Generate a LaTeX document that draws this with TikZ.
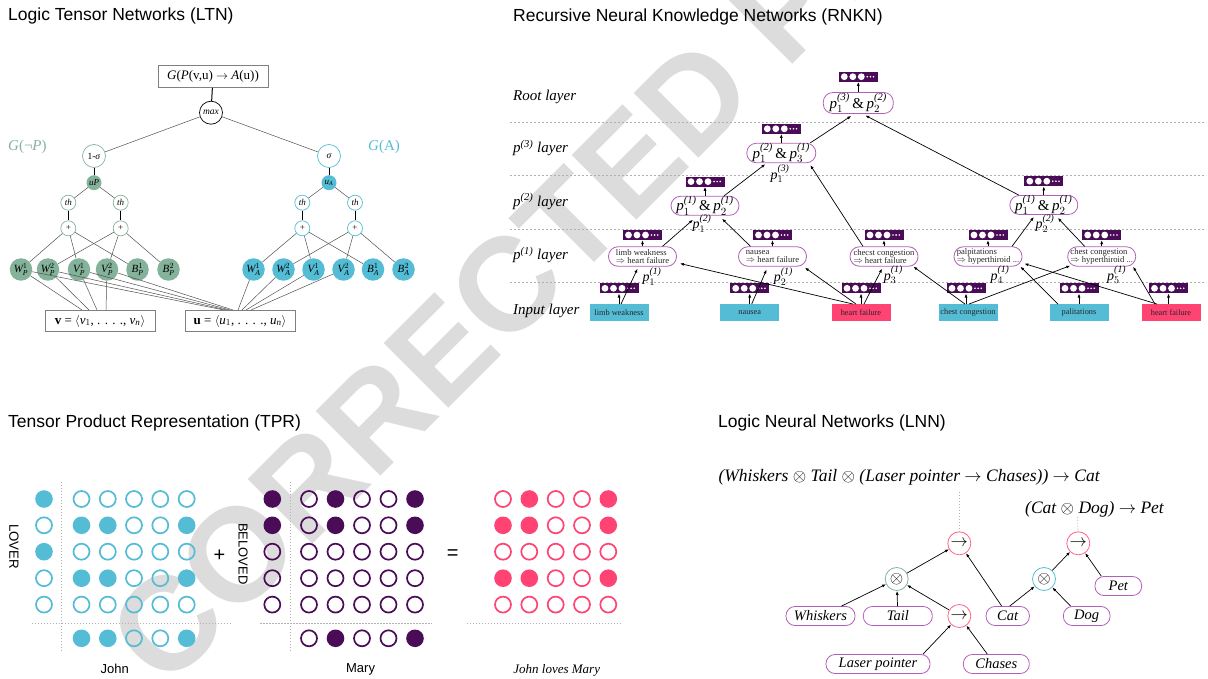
\documentclass[tikz,border=0pt]{standalone}
\usepackage{amsmath}
\usepackage{fontspec}
\setmainfont{Liberation Serif}
\newfontfamily\headfont{Liberation Sans}
\newfontfamily\stampfont{Liberation Sans Bold}
\usetikzlibrary{arrows.meta}

\definecolor{ltngreen}{HTML}{84B29A}
\definecolor{ltnblue}{HTML}{55BCD6}
\definecolor{vecpurple}{HTML}{4B0C57}
\definecolor{hotpink}{HTML}{FF4473}
\definecolor{ovalpurple}{HTML}{B35FBA}
\definecolor{stampgray}{HTML}{DCDCDC}
\definecolor{edgegray}{HTML}{505050}
\definecolor{rulegray}{HTML}{B0B0B0}
\definecolor{implpink}{HTML}{FF6385}

\newcommand{\fsz}[1]{\fontsize{#1}{#1}\selectfont}
\newcommand{\pvar}[2]{\textit{p}$^{\textit{(#2)}}_{#1}$}
% one row of TPR units: colour, y, list of x/state (1 = active)
\newcommand{\tprrow}[3]{%
  \foreach \cx/\cs in {#3}{%
    \ifnum\cs=1 \fill[#1] (\cx,#2) circle (8.8pt);%
    \else \draw[#1, line width=1.7pt] (\cx,#2) circle (8pt);\fi}}

\begin{document}
\begin{tikzpicture}[x=1pt, y=-1pt,
  sectitle/.style={font=\headfont\fsz{17.5}, anchor=west, inner sep=0pt},
  ltnop/.style={circle, draw=#1, line width=0.7pt, minimum size=23pt, inner sep=0pt, font=\fsz{9.5}},
  ltnmini/.style={circle, draw=#1, line width=0.7pt, minimum size=15pt, inner sep=0pt, font=\fsz{9}},
  ltnhid/.style={circle, fill=#1, minimum size=15pt, inner sep=0pt, font=\itshape\fsz{9}},
  ltnleaf/.style={circle, fill=#1, minimum size=22.5pt, inner sep=0pt, font=\itshape\fsz{11}},
  thinedge/.style={draw=edgegray, line width=0.5pt},
  boldedge/.style={draw=black, line width=1pt},
  formbox/.style={draw=gray, line width=0.8pt, minimum width=110pt, minimum height=22pt, inner sep=0pt, font=\fsz{13}},
  layerlab/.style={font=\itshape\fsz{15}, anchor=west, inner sep=0pt},
  layerrule/.style={draw=rulegray, line width=0.6pt, dash pattern=on 2pt off 2pt},
  inbox/.style={fill=#1, minimum width=59pt, minimum height=16.5pt, inner sep=0pt, font=\fsz{8.3}, text=black!85},
  vecbox/.style={rectangle, fill=vecpurple, minimum width=39pt, minimum height=10pt, inner sep=0pt,
    path picture={
      \foreach \dx in {5.5,14,22.5}{\fill[white] ([xshift=\dx]path picture bounding box.west) circle (3.4pt);}
      \foreach \dx in {28.5,31.6,34.7}{\fill[white] ([xshift=\dx]path picture bounding box.west) circle (0.9pt);}
    }},
  pcell/.style={draw=ovalpurple, line width=0.8pt, rounded corners=9.5pt, minimum width=68pt, minimum height=19.5pt,
    inner sep=0pt, align=left, font=\fontsize{8.6}{8.8}\selectfont, text=black!85},
  pbig/.style={draw=ovalpurple, line width=0.8pt, rounded corners=9.5pt, minimum width=68pt, minimum height=19pt,
    inner sep=0pt, font=\fsz{15}},
  plab/.style={font=\fsz{14}, inner sep=0pt},
  flow/.style={-{Latex[length=4pt,width=3pt]}, line width=0.7pt},
  gridrule/.style={draw=gray!60, line width=0.6pt, dash pattern=on 1.5pt off 1.5pt},
  lnnop/.style={circle, draw=#1, line width=0.8pt, minimum size=23pt, inner sep=0pt, font=\fsz{18}},
  lnnbox/.style={draw=ovalpurple, line width=0.8pt, rounded corners=9pt, minimum height=19pt, inner sep=0pt, font=\itshape\fsz{14.5}},
  formula/.style={font=\itshape\fsz{17.5}, anchor=west, inner sep=0pt}
]
\useasboundingbox (0,0) rectangle (1208,679);

% proof stamp behind everything
\begin{scope}
  \clip (0,0) rectangle (1208,679);
  \node[rotate=45, anchor=base west, inner sep=0pt, text=stampgray, font=\stampfont\fsz{133}] (stamp) at (165,692) {CORRECTED PROOF};
\end{scope}

% section titles
\node[sectitle] (ltntitle) at (8,16) {Logic Tensor Networks (LTN)};
\node[sectitle] (rnkntitle) at (513,16.5) {Recursive Neural Knowledge Networks (RNKN)};
\node[sectitle] (tprtitle) at (8,422.5) {Tensor Product Representation (TPR)};
\node[sectitle] (lnntitle) at (718,422.5) {Logic Neural Networks (LNN)};

% ---------------- LTN ----------------
\node[formbox] (gbox) at (213,76.5) {\textit{G}(\textit{P}(v,u) $\rightarrow$ \textit{A}(u))};
\node[ltnop=black, font=\itshape\fsz{9.5}] (maxn) at (211,112.7) {max};
\node[ltnop=ltngreen] (nsig) at (94,156) {1-\textit{σ}};
\node[ltnop=ltnblue] (sig) at (329,156) {\textit{σ}};
\node[font=\fsz{15}, text=ltngreen, anchor=west, inner sep=0pt] (gnp) at (8,147) {\textit{G}(¬\textit{P})};
\node[font=\fsz{15}, text=ltnblue, anchor=west, inner sep=0pt] (ga) at (368,147) {\textit{G}(A)};
\node[ltnhid=ltngreen] (up) at (94,182.7) {uP};
\node[ltnhid=ltnblue] (ua) at (329,182.7) {u$_{\textit{A}}$};
\node[ltnmini=ltngreen, font=\itshape\fsz{9}] (thp1) at (68.3,202.7) {th};
\node[ltnmini=ltngreen, font=\itshape\fsz{9}] (thp2) at (120.7,202.7) {th};
\node[ltnmini=ltnblue, font=\itshape\fsz{9}] (tha1) at (302.3,202.7) {th};
\node[ltnmini=ltnblue, font=\itshape\fsz{9}] (tha2) at (355,202.7) {th};
\node[ltnmini=ltngreen] (plp1) at (68.3,228.3) {+};
\node[ltnmini=ltngreen] (plp2) at (120.7,228.3) {+};
\node[ltnmini=ltnblue] (pla1) at (302.3,228.3) {+};
\node[ltnmini=ltnblue] (pla2) at (355,228.3) {+};

\node[ltnleaf=ltngreen] (wp1) at (21,269.5) {W$^{1}_{\textit{P}}$};
\node[ltnleaf=ltngreen] (wp2) at (48,269.5) {W$^{2}_{\textit{P}}$};
\node[ltnleaf=ltngreen] (vp1) at (79,269.5) {V$^{1}_{\textit{P}}$};
\node[ltnleaf=ltngreen] (vp2) at (107,269.5) {V$^{2}_{\textit{P}}$};
\node[ltnleaf=ltngreen] (bp1) at (137.5,269.5) {B$^{1}_{\textit{P}}$};
\node[ltnleaf=ltngreen] (bp2) at (168.5,269.5) {B$^{2}_{\textit{P}}$};
\node[ltnleaf=ltnblue] (wa1) at (253.5,269.5) {W$^{1}_{\textit{A}}$};
\node[ltnleaf=ltnblue] (wa2) at (283.5,269.5) {W$^{2}_{\textit{A}}$};
\node[ltnleaf=ltnblue] (va1) at (313.5,269.5) {V$^{1}_{\textit{A}}$};
\node[ltnleaf=ltnblue] (va2) at (343.5,269.5) {V$^{2}_{\textit{A}}$};
\node[ltnleaf=ltnblue] (ba1) at (373,269.5) {B$^{1}_{\textit{A}}$};
\node[ltnleaf=ltnblue] (ba2) at (403.5,269.5) {B$^{2}_{\textit{A}}$};

\node[formbox, minimum height=21.5pt] (vvec) at (100,321) {\textbf{v} = $\langle$\textit{v}$_{1}$, . . . ., \textit{v}$_{\textit{n}}$$\rangle$};
\node[formbox, minimum height=21.5pt] (uvec) at (240,321) {\textbf{u} = $\langle$\textit{u}$_{1}$, . . . ., \textit{u}$_{\textit{n}}$$\rangle$};

\coordinate (vin1) at (82,310);  \coordinate (vin2) at (89,310);
\coordinate (vin3) at (97,310);  \coordinate (vin4) at (106,310);
\coordinate (uin1) at (224,310); \coordinate (uin2) at (227,310);
\coordinate (uin3) at (230,310); \coordinate (uin4) at (233,310);
\coordinate (uin5) at (238,310); \coordinate (uin6) at (242,310);
\coordinate (uin7) at (246,310); \coordinate (uin8) at (251,310);

\draw[boldedge] (gbox) -- (maxn);
\draw[thinedge] (maxn) -- (nsig);
\draw[thinedge] (maxn) -- (sig);
\draw[boldedge] (nsig) -- (up);
\draw[boldedge] (sig) -- (ua);
\draw[thinedge] (up) -- (thp1);
\draw[thinedge] (up) -- (thp2);
\draw[thinedge] (ua) -- (tha1);
\draw[thinedge] (ua) -- (tha2);
\draw[boldedge] (thp1) -- (plp1);
\draw[boldedge] (thp2) -- (plp2);
\draw[boldedge] (tha1) -- (pla1);
\draw[boldedge] (tha2) -- (pla2);
\foreach \s/\t in {plp1/wp1, plp1/vp1, plp1/bp1, plp2/wp2, plp2/vp2, plp2/bp2,
                   pla1/wa1, pla1/va1, pla1/ba1, pla2/wa2, pla2/va2, pla2/ba2}
  \draw[thinedge] (\s) -- (\t);
\foreach \s/\t in {wp1/vin1, wp2/vin2, vp1/vin3, vp2/vin4,
                   wp1/uin1, wp2/uin2, vp1/uin3, vp2/uin4,
                   wa1/uin5, wa2/uin6, va1/uin7, va2/uin8}
  \draw[thinedge] (\s) -- (\t);

% ---------------- RNKN ----------------
\foreach \ly in {122.3,175.7,229,282.3}
  \draw[layerrule] (510,\ly) -- (1206,\ly);
\node[layerlab] (lroot) at (513,96.5) {Root layer};
\node[layerlab] (lp3) at (513,148) {\textit{p}$^{\textit{(3)}}$ layer};
\node[layerlab] (lp2) at (513,201.5) {\textit{p}$^{\textit{(2)}}$ layer};
\node[layerlab] (lp1) at (513,255) {\textit{p}$^{\textit{(1)}}$ layer};
\node[layerlab] (lin) at (513,310.5) {Input layer};

\node[inbox=ltnblue] (lw) at (619,312.5) {limb weakness};
\node[inbox=ltnblue] (na) at (749.7,312.5) {nausea};
\node[inbox=hotpink] (hf1) at (861,312.5) {heart failure};
\node[inbox=ltnblue] (cc) at (968,312.5) {chest congestion};
\node[inbox=ltnblue] (pa) at (1079,312.5) {palitations};
\node[inbox=hotpink] (hf2) at (1171,312.5) {heart failure};

\node[vecbox] (lwv) at (619,288.3) {};
\node[vecbox] (nav) at (749.7,288.3) {};
\node[vecbox] (hf1v) at (861,288.3) {};
\node[vecbox] (ccv) at (966,288.3) {};
\node[vecbox] (pav) at (1079,288.3) {};
\node[vecbox] (hf2v) at (1168.5,288.3) {};

\node[pcell] (lwo) at (642.5,256.5) {limb weakness\\$\Rightarrow$ heart failure};
\node[pcell] (nao) at (772.5,256.5) {nausea\\$\Rightarrow$ heart failure};
\node[pcell] (cco1) at (884,256.5) {checst congestion\\$\Rightarrow$ heart failure};
\node[pcell] (pao) at (988,256.5) {palpitations\\$\Rightarrow$ hyperthiroid ...};
\node[pcell] (cco2) at (1101.7,256.5) {chest congestion\\$\Rightarrow$ hyperthiroid ...};

\node[vecbox] (lwov) at (642.5,235) {};
\node[vecbox] (naov) at (772.5,235) {};
\node[vecbox] (cco1v) at (884,235) {};
\node[vecbox] (paov) at (988,235) {};
\node[vecbox] (cco2v) at (1101.7,235) {};

\node[pbig] (o21) at (705,205.8) {\pvar{1}{1}\,\&\,\pvar{2}{1}};
\node[pbig] (o22) at (1043.8,205) {\pvar{1}{1}\,\&\,\pvar{2}{1}};
\node[vecbox] (o21v) at (705,181.6) {};
\node[vecbox] (o22v) at (1043.8,181.2) {};

\node[pbig, minimum width=69pt, minimum height=19.5pt] (o3) at (781.3,153) {\pvar{1}{2}\,\&\,\pvar{3}{1}};
\node[vecbox] (o3v) at (781.3,128.8) {};
\node[pbig, minimum width=70pt, minimum height=21pt] (root) at (858.3,103) {\pvar{1}{3}\,\&\,\pvar{2}{2}};
\node[vecbox] (rootv) at (858.3,76.7) {};

\node[plab] (q11) at (652,276.5) {\pvar{1}{1}};
\node[plab] (q21) at (783.3,276.5) {\pvar{2}{1}};
\node[plab] (q31) at (893.3,275) {\pvar{3}{1}};
\node[plab] (q41) at (1000,275) {\pvar{4}{1}};
\node[plab] (q51) at (1116.7,275) {\pvar{5}{1}};
\node[plab] (q12) at (702,223.5) {\pvar{1}{2}};
\node[plab] (q22) at (1045,223.5) {\pvar{2}{2}};
\node[plab] (q13) at (780,174) {\pvar{1}{3}};

% inputs to their vectors
\foreach \s in {lw,na,hf1,cc,pa,hf2}
  \draw[flow] (\s.north -| \s v) -- (\s v);
% cells to their vectors
\foreach \s in {lwo,nao,cco1,pao,cco2,o21,o22,o3,root}
  \draw[flow] (\s) -- (\s v);

% inputs to p(1) cells
\draw[flow] ([xshift=2pt]lw.north) -- ([xshift=-5pt,yshift=-2pt]lwo.south);
\draw[flow] ([xshift=2pt]na.north) -- ([xshift=-6pt,yshift=-3pt]nao.south);
\draw[flow] ([xshift=3pt]hf1.north) -- ([xshift=-2pt,yshift=-2pt]cco1.south);
\draw[flow] ([xshift=-8pt]hf1.north) -- ([xshift=3pt,yshift=-7pt]lwo.east);
\draw[flow] ([xshift=-5pt]hf1.north) -- ([xshift=-2pt,yshift=-1pt]nao.south east);
\draw[flow] ([xshift=-3pt]cc.north) -- ([xshift=-5pt]cco1.south east);
\draw[flow] ([xshift=1pt]cc.north) -- ([xshift=3pt,yshift=1pt]cco2.south west);
\draw[flow] ([xshift=-21pt]pa.north) -- ([xshift=-2pt]pao.south east);
\draw[flow] ([xshift=-14pt]hf2.north) -- ([xshift=2pt,yshift=3pt]pao.south east);
\draw[flow] ([xshift=-16pt]hf2.north) -- ([xshift=-3pt]cco2.south east);

% p(1) to p(2)
\draw[flow] ([xshift=20pt]lwo.north) -- ([xshift=-12pt,yshift=-4pt]o21.south);
\draw[flow] ([xshift=-22pt]nao.north) -- ([xshift=17pt,yshift=-3pt]o21.south);
\draw[flow] ([xshift=24pt]pao.north) -- ([xshift=-10pt,yshift=-2pt]o22.south);
\draw[flow] ([xshift=-17pt]cco2.north) -- ([xshift=14pt,yshift=-3pt]o22.south);
% p(2) to p(3)
\draw[flow] ([xshift=19pt]o21.north) -- ([xshift=-16pt,yshift=-1pt]o3.south);
\draw[flow] ([xshift=-21pt]cco1.north) -- ([xshift=29pt,yshift=-2pt]o3.south);
% p(3) to root
\draw[flow] ([xshift=29pt]o3.north) -- ([xshift=-7pt,yshift=-2pt]root.south);
\draw[flow] ([xshift=-25pt]o22.north) -- ([xshift=7pt,yshift=-1.5pt]root.south);

% ---------------- TPR ----------------
\draw[gridrule] (61.3,481.7) -- (61.3,651.7);
\draw[gridrule] (31.6,623.3) -- (231,623.3);
\draw[gridrule] (290.7,481.7) -- (290.7,651.7);
\draw[gridrule] (260,623.3) -- (431.7,623.3);
\draw[gridrule] (466.7,623.3) -- (620,623.3);

\tprrow{ltnblue}{499}{44/1,81.5/0,107.8/0,134/0,160.3/0,186.7/0}
\tprrow{ltnblue}{525.3}{44/0,81.5/1,107.8/1,134/0,160.3/0,186.7/1}
\tprrow{ltnblue}{551.7}{44/1,81.5/0,107.8/0,134/0,160.3/0,186.7/0}
\tprrow{ltnblue}{578.2}{44/0,81.5/1,107.8/1,134/0,160.3/0,186.7/1}
\tprrow{ltnblue}{604.6}{44/0,81.5/0,107.8/0,134/0,160.3/0,186.7/0}
\tprrow{ltnblue}{638.3}{81.5/1,107.8/1,134/0,160.3/0,186.7/1}

\tprrow{vecpurple}{499}{272.3/1,309/0,335.5/1,362/0,388.5/0,415/1}
\tprrow{vecpurple}{525.3}{272.3/1,309/0,335.5/1,362/0,388.5/0,415/1}
\tprrow{vecpurple}{551.7}{272.3/0,309/0,335.5/0,362/0,388.5/0,415/0}
\tprrow{vecpurple}{578.2}{272.3/0,309/0,335.5/0,362/0,388.5/0,415/0}
\tprrow{vecpurple}{604.6}{272.3/0,309/0,335.5/0,362/0,388.5/0,415/0}
\tprrow{vecpurple}{638.3}{309/0,335.5/1,362/0,388.5/0,415/1}

\tprrow{hotpink}{499}{503/0,529.3/1,555.7/0,582/0,608.3/1}
\tprrow{hotpink}{525.3}{503/1,529.3/1,555.7/0,582/0,608.3/1}
\tprrow{hotpink}{551.7}{503/0,529.3/0,555.7/0,582/0,608.3/0}
\tprrow{hotpink}{578.2}{503/1,529.3/1,555.7/0,582/0,608.3/1}
\tprrow{hotpink}{604.6}{503/0,529.3/0,555.7/0,582/0,608.3/0}

\node[rotate=-90, font=\headfont\fsz{13.3}, inner sep=0pt] (lover) at (14,546.7) {LOVER};
\node[rotate=-90, font=\headfont\fsz{13}, inner sep=0pt] (beloved) at (243,554) {BELOVED};
\node[font=\headfont\fsz{20}, inner sep=0pt] (plus) at (219.5,556) {+};
\node[font=\headfont\fsz{20}, inner sep=0pt] (equals) at (452.7,555) {=};
\node[font=\headfont\fsz{13}, inner sep=0pt] (john) at (114.7,669) {John};
\node[font=\headfont\fsz{13}, inner sep=0pt] (mary) at (360.6,669) {Mary};
\node[font=\itshape\fsz{13}, inner sep=0pt] (jlm) at (556.7,670) {John loves Mary};

% ---------------- LNN ----------------
\node[formula] (rulecat) at (718.3,477.3) {(Whiskers $\otimes$ Tail $\otimes$ (Laser pointer $\rightarrow$ Chases)) $\rightarrow$ Cat};
\node[formula] (rulepet) at (1025,509.3) {(Cat $\otimes$ Dog) $\rightarrow$ Pet};

\node[lnnop=implpink] (imp1) at (959.3,543.3) {$\rightarrow$};
\node[lnnop=implpink] (imp2) at (1078.3,543.3) {$\rightarrow$};
\node[lnnop=ltngreen] (ot1) at (896.7,579) {$\otimes$};
\node[lnnop=ltnblue] (ot2) at (1044,579) {$\otimes$};
\node[lnnop=implpink] (imp3) at (959.3,616) {$\rightarrow$};

\node[lnnbox, minimum width=69pt] (whisk) at (820.5,616) {Whiskers};
\node[lnnbox, minimum width=69pt] (tail) at (897.8,616) {Tail};
\node[lnnbox, minimum width=43.3pt] (cat) at (1007.7,616) {Cat};
\node[lnnbox, minimum width=46.7pt] (dog) at (1086.7,616) {Dog};
\node[lnnbox, minimum width=46.7pt] (pet) at (1118.3,586) {Pet};
\node[lnnbox, minimum width=104pt] (laser) at (878,664) {Laser pointer};
\node[lnnbox, minimum width=66pt] (chases) at (996.3,664) {Chases};

\coordinate (catfoot) at (959.3,491.7);
\coordinate (petfoot) at (1077.7,516.7);
\draw[gridrule] (catfoot) -- (imp1);
\draw[gridrule] (petfoot) -- (imp2);

\draw[flow] ([xshift=21pt]whisk.north) -- (ot1);
\draw[flow] (tail) -- (ot1);
\draw[flow] (imp3) -- (ot1);
\draw[flow] (ot1) -- (imp1);
\draw[flow] ([xshift=-6pt]cat.north) -- (imp1);
\draw[flow] ([xshift=2pt]cat.north) -- (ot2);
\draw[flow] ([xshift=-16pt]dog.north) -- (ot2);
\draw[flow] (ot2) -- (imp2);
\draw[flow] ([xshift=-17pt]pet.north) -- (imp2);
\draw[flow] ([xshift=45pt]laser.north) -- (imp3);
\draw[flow] ([xshift=-9pt]chases.north) -- (imp3);
\end{tikzpicture}
\end{document}
